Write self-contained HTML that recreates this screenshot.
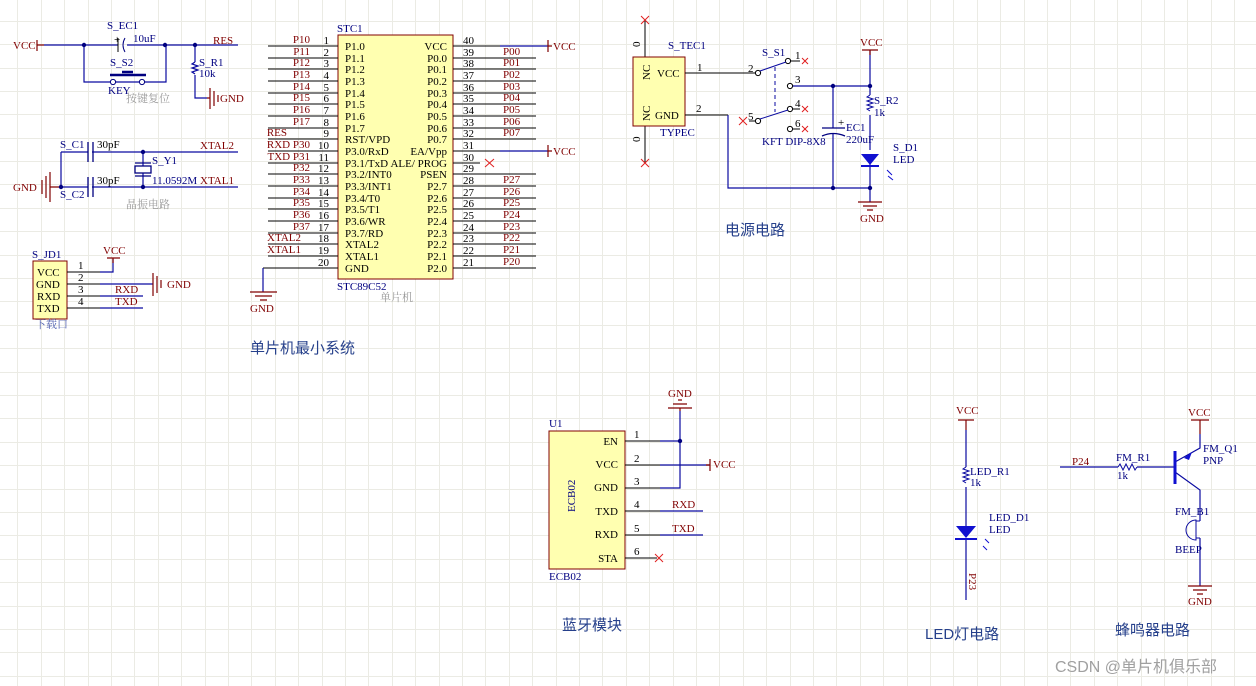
<!DOCTYPE html>
<html><head><meta charset="utf-8"><style>
body{margin:0;background:#fff}
svg{display:block}
text{font-family:"Liberation Serif","Noto Serif CJK SC",serif;font-size:11px}
.n{fill:#800000}.b{fill:#000080}.k{fill:#000}.g{fill:#999}
.t{font-family:"Liberation Sans","Noto Sans CJK SC",sans-serif;font-size:15px;fill:#26408b}
.cs{font-family:"Liberation Sans","Noto Sans CJK SC",sans-serif;font-size:16px;fill:#a0a0a0}
.w{stroke:#0a0aa0;stroke-width:1.2;fill:none}
.p{stroke:#000;stroke-width:1;fill:none}
.r{stroke:#800000;stroke-width:1.2;fill:none}
.x{stroke:#e02020;stroke-width:1}
</style></head><body>
<svg width="1256" height="686" viewBox="0 0 1256 686">
<rect width="1256" height="686" fill="#fff"/>
<path stroke="#ebebe4" stroke-width="1" fill="none" d="M17.5 0V686M41.5 0V686M64.5 0V686M88.5 0V686M111.5 0V686M134.5 0V686M158.5 0V686M181.5 0V686M205.5 0V686M228.5 0V686M251.5 0V686M275.5 0V686M298.5 0V686M322.5 0V686M345.5 0V686M368.5 0V686M392.5 0V686M415.5 0V686M439.5 0V686M462.5 0V686M485.5 0V686M509.5 0V686M532.5 0V686M556.5 0V686M579.5 0V686M602.5 0V686M626.5 0V686M649.5 0V686M673.5 0V686M696.5 0V686M719.5 0V686M743.5 0V686M766.5 0V686M790.5 0V686M813.5 0V686M836.5 0V686M860.5 0V686M883.5 0V686M907.5 0V686M930.5 0V686M953.5 0V686M977.5 0V686M1000.5 0V686M1024.5 0V686M1047.5 0V686M1070.5 0V686M1094.5 0V686M1117.5 0V686M1141.5 0V686M1164.5 0V686M1187.5 0V686M1211.5 0V686M1234.5 0V686
M0 21.5H1256M0 44.5H1256M0 68.5H1256M0 91.5H1256M0 114.5H1256M0 138.5H1256M0 161.5H1256M0 184.5H1256M0 208.5H1256M0 231.5H1256M0 255.5H1256M0 278.5H1256M0 301.5H1256M0 325.5H1256M0 348.5H1256M0 372.5H1256M0 395.5H1256M0 418.5H1256M0 442.5H1256M0 465.5H1256M0 489.5H1256M0 512.5H1256M0 535.5H1256M0 559.5H1256M0 582.5H1256M0 606.5H1256M0 629.5H1256M0 652.5H1256M0 676.5H1256"/>

<!-- reset circuit -->
<text x="13" y="49" class="n">VCC</text>
<path class="r" d="M37 40V51M37 45H44"/>
<path class="w" d="M44 45H118M127 45H238M84 45V82H110M116 82H139M145 82H166V45M195 45V62M195 75V98H207"/>
<path class="p" d="M118 38V52" />
<path d="M125 38Q121 45 125 52" stroke="#000080" fill="none"/>
<text x="114" y="43" class="k" font-size="9">+</text>
<circle cx="113" cy="82" r="2.6" fill="#fff" stroke="#000080"/>
<circle cx="142" cy="82" r="2.6" fill="#fff" stroke="#000080"/>
<path d="M110 75H146M122 72H133" stroke="#000080" stroke-width="2.5"/>
<path d="M195 62l-3 2l6 2l-6 2l6 2l-6 2l3 2" class="w" stroke-width="1"/>
<circle cx="84" cy="45" r="2.2" fill="#000080"/><circle cx="165" cy="45" r="2.2" fill="#000080"/><circle cx="195" cy="45" r="2.2" fill="#000080"/>
<path class="r" d="M207 98H210M210 88V109M214 91V106M218 95V102"/>
<text x="220" y="102" class="n">GND</text>
<text x="107" y="29" class="b">S_EC1</text><text x="133" y="42" class="b">10uF</text>
<text x="110" y="66" class="b">S_S2</text><text x="108" y="94" class="b">KEY</text>
<text x="126" y="102" class="g" font-size="9">按键复位</text>
<text x="213" y="44" class="n">RES</text>
<text x="199" y="66" class="b">S_R1</text><text x="199" y="77" class="b">10k</text>

<!-- crystal -->
<text x="13" y="191" class="n">GND</text>
<path class="r" d="M42 180V194M46 176V198M50 172V202M50 187H61"/>
<path class="w" d="M61 152V187M61 152H88M92 152H238M61 187H88M92 187H238M143 152V166M143 173V187"/>
<path d="M88 142V162M93 142V162M88 177V197M93 177V197" stroke="#000080" stroke-width="1.3"/>
<rect x="135" y="166" width="16" height="7" fill="none" stroke="#000080" stroke-width="1.3"/>
<path d="M135 163H151M135 176H151" stroke="#000080" stroke-width="1.3"/>
<circle cx="61" cy="187" r="2.2" fill="#000080"/><circle cx="143" cy="152" r="2.2" fill="#000080"/><circle cx="143" cy="187" r="2.2" fill="#000080"/>
<text x="60" y="148" class="b">S_C1</text><text x="97" y="148" class="k">30pF</text>
<text x="97" y="184" class="k">30pF</text><text x="60" y="198" class="b">S_C2</text>
<text x="152" y="164" class="b">S_Y1</text><text x="152" y="184" class="b">11.0592M</text>
<text x="200" y="149" class="n">XTAL2</text><text x="200" y="184" class="n">XTAL1</text>
<text x="126" y="208" class="g" font-size="9">晶振电路</text>

<!-- JD1 -->
<text x="32" y="258" class="b">S_JD1</text>
<rect x="33" y="261" width="34" height="58" fill="#ffffb0" stroke="#800000"/>
<text x="37" y="276" class="k">VCC</text><text x="36" y="288" class="k">GND</text><text x="37" y="300" class="k">RXD</text><text x="37" y="312" class="k">TXD</text>
<path class="p" d="M67 272H100M67 284H100M67 296H100M67 308H100"/>
<text x="78" y="269" class="k">1</text><text x="78" y="281" class="k">2</text><text x="78" y="293" class="k">3</text><text x="78" y="305" class="k">4</text>
<path class="w" d="M100 272H113V259M100 284H153M100 296H143M100 308H143"/>
<path class="r" d="M107 258H120M113 258V263M153 273V296M157 276V293M161 280V288"/>
<text x="103" y="254" class="n">VCC</text><text x="167" y="288" class="n">GND</text>
<text x="115" y="293" class="n">RXD</text><text x="115" y="305" class="n">TXD</text>
<text x="35" y="328" fill="#5060b0" font-size="11">下载口</text>

<!-- STC -->
<text x="337" y="32" class="b">STC1</text>
<rect x="338" y="35" width="115" height="244" fill="#ffffb0" stroke="#800000"/>
<g class="p">
<path d="M268 46H338M268 58H338M268 69H338M268 81H338M268 93H338M268 104H338M268 116H338M268 128H338M268 139H338M268 151H338M268 163H338M268 174H338M268 186H338M268 198H338M268 209H338M268 221H338M268 233H338M268 244H338M268 256H338M263 268H338"/>
<path d="M453 46H548M453 58H536M453 69H536M453 81H536M453 93H536M453 104H536M453 116H536M453 128H536M453 139H536M453 151H548M453 163H480M453 174H536M453 186H536M453 198H536M453 209H536M453 221H536M453 233H536M453 244H536M453 256H536M453 268H536"/>
</g>
<path class="w" d="M263 268V292M500 46H548M500 151H548"/>
<path class="r" d="M548 40V52M548 46H552M548 145V157M548 151H552M250 292H277M255 296H272M260 300H267"/>
<path class="x" d="M485 159l9 8M485 167l9 -8"/>
<text x="553" y="50" class="n">VCC</text><text x="553" y="155" class="n">VCC</text><text x="250" y="312" class="n">GND</text>
<g class="k" text-anchor="end">
<text x="329" y="44">1</text><text x="329" y="56">2</text><text x="329" y="67">3</text><text x="329" y="79">4</text><text x="329" y="91">5</text><text x="329" y="102">6</text><text x="329" y="114">7</text><text x="329" y="126">8</text><text x="329" y="137">9</text><text x="329" y="149">10</text><text x="329" y="161">11</text><text x="329" y="172">12</text><text x="329" y="184">13</text><text x="329" y="196">14</text><text x="329" y="207">15</text><text x="329" y="219">16</text><text x="329" y="231">17</text><text x="329" y="242">18</text><text x="329" y="254">19</text><text x="329" y="266">20</text>
</g>
<g class="k">
<text x="463" y="44">40</text><text x="463" y="56">39</text><text x="463" y="67">38</text><text x="463" y="79">37</text><text x="463" y="91">36</text><text x="463" y="102">35</text><text x="463" y="114">34</text><text x="463" y="126">33</text><text x="463" y="137">32</text><text x="463" y="149">31</text><text x="463" y="161">30</text><text x="463" y="172">29</text><text x="463" y="184">28</text><text x="463" y="196">27</text><text x="463" y="207">26</text><text x="463" y="219">25</text><text x="463" y="231">24</text><text x="463" y="242">23</text><text x="463" y="254">22</text><text x="463" y="266">21</text>
</g>
<g class="k">
<text x="345" y="50">P1.0</text><text x="345" y="62">P1.1</text><text x="345" y="73">P1.2</text><text x="345" y="85">P1.3</text><text x="345" y="97">P1.4</text><text x="345" y="108">P1.5</text><text x="345" y="120">P1.6</text><text x="345" y="132">P1.7</text><text x="345" y="143">RST/VPD</text><text x="345" y="155">P3.0/RxD</text><text x="345" y="167">P3.1/TxD</text><text x="345" y="178">P3.2/INT0</text><text x="345" y="190">P3.3/INT1</text><text x="345" y="202">P3.4/T0</text><text x="345" y="213">P3.5/T1</text><text x="345" y="225">P3.6/WR</text><text x="345" y="237">P3.7/RD</text><text x="345" y="248">XTAL2</text><text x="345" y="260">XTAL1</text><text x="345" y="272">GND</text>
</g>
<g class="k" text-anchor="end">
<text x="447" y="50">VCC</text><text x="447" y="62">P0.0</text><text x="447" y="73">P0.1</text><text x="447" y="85">P0.2</text><text x="447" y="97">P0.3</text><text x="447" y="108">P0.4</text><text x="447" y="120">P0.5</text><text x="447" y="132">P0.6</text><text x="447" y="143">P0.7</text><text x="447" y="155">EA/Vpp</text><text x="447" y="167">ALE/ PROG</text><text x="447" y="178">PSEN</text><text x="447" y="190">P2.7</text><text x="447" y="202">P2.6</text><text x="447" y="213">P2.5</text><text x="447" y="225">P2.4</text><text x="447" y="237">P2.3</text><text x="447" y="248">P2.2</text><text x="447" y="260">P2.1</text><text x="447" y="272">P2.0</text>
</g>
<g class="n" text-anchor="end">
<text x="310" y="43">P10</text><text x="310" y="55">P11</text><text x="310" y="66">P12</text><text x="310" y="78">P13</text><text x="310" y="90">P14</text><text x="310" y="101">P15</text><text x="310" y="113">P16</text><text x="310" y="125">P17</text><text x="287" y="136">RES</text><text x="310" y="148">RXD P30</text><text x="310" y="160">TXD P31</text><text x="310" y="171">P32</text><text x="310" y="183">P33</text><text x="310" y="195">P34</text><text x="310" y="206">P35</text><text x="310" y="218">P36</text><text x="310" y="230">P37</text><text x="301" y="241">XTAL2</text><text x="301" y="253">XTAL1</text>
</g>
<g class="n">
<text x="503" y="55">P00</text><text x="503" y="66">P01</text><text x="503" y="78">P02</text><text x="503" y="90">P03</text><text x="503" y="101">P04</text><text x="503" y="113">P05</text><text x="503" y="125">P06</text><text x="503" y="136">P07</text><text x="503" y="183">P27</text><text x="503" y="195">P26</text><text x="503" y="206">P25</text><text x="503" y="218">P24</text><text x="503" y="230">P23</text><text x="503" y="241">P22</text><text x="503" y="253">P21</text><text x="503" y="265">P20</text>
</g>
<text x="337" y="290" class="b">STC89C52</text>
<text x="380" y="301" class="g" font-size="9">单片机</text>
<text x="250" y="353" class="t">单片机最小系统</text>

<!-- power -->
<path class="p" d="M645 20V57M645 126V163"/>
<path class="x" d="M641 16l8 8M641 24l8 -8M641 159l8 8M641 167l8 -8"/>
<text x="640" y="47" class="k" font-size="10" transform="rotate(-90 640 47)">0</text>
<text x="640" y="142" class="k" font-size="10" transform="rotate(-90 640 142)">0</text>
<text x="668" y="49" class="b">S_TEC1</text>
<rect x="633" y="57" width="52" height="69" fill="#ffffb0" stroke="#800000"/>
<text x="650" y="80" class="k" font-size="10" transform="rotate(-90 650 80)">NC</text>
<text x="650" y="121" class="k" font-size="10" transform="rotate(-90 650 121)">NC</text>
<text x="657" y="77" class="k">VCC</text><text x="655" y="119" class="k">GND</text>
<text x="660" y="136" class="b">TYPEC</text>
<path class="p" d="M685 73H720M685 115H728M720 73H755"/>
<text x="697" y="71" class="k">1</text><text x="696" y="112" class="k">2</text>
<path class="w" d="M728 115V188H870M793 86H870M870 50V95M870 115V150M870 163V202M833 86V128M833 134V188"/>
<circle cx="758" cy="73" r="2.6" fill="#fff" stroke="#000"/><circle cx="788" cy="61" r="2.6" fill="#fff" stroke="#000"/>
<circle cx="790" cy="86" r="2.6" fill="#fff" stroke="#000"/><circle cx="790" cy="109" r="2.6" fill="#fff" stroke="#000"/>
<circle cx="758" cy="121" r="2.6" fill="#fff" stroke="#000"/><circle cx="790" cy="129" r="2.6" fill="#fff" stroke="#000"/>
<path class="p" d="M791 61H800M793 109H800M793 129H800M749 121H755"/>
<path d="M760 71L786 62M760 119L788 110" stroke="#0a0aa0" fill="none"/>
<path d="M775 67V112" stroke="#0a0aa0" stroke-dasharray="4 3"/>
<path class="x" d="M802 58l6 6M802 64l6 -6M802 106l6 6M802 112l6 -6M802 126l6 6M802 132l6 -6M739 117l8 8M739 125l8 -8"/>
<g class="k"><text x="748" y="72">2</text><text x="795" y="59">1</text><text x="795" y="83">3</text><text x="795" y="107">4</text><text x="748" y="120">5</text><text x="795" y="127">6</text></g>
<text x="762" y="56" class="b">S_S1</text>
<text x="762" y="145" class="b">KFT DIP-8X8</text>
<path d="M822 128H845" stroke="#000080" stroke-width="1.3"/><path d="M822 136Q833 131 845 136" stroke="#000080" fill="none" stroke-width="1.3"/>
<text x="838" y="126" class="k" font-size="9">+</text>
<text x="846" y="131" class="b">EC1</text><text x="846" y="143" class="b">220uF</text>
<path d="M870 95l-3 2l6 2l-6 2l6 2l-6 2l6 2l-6 2l3 2" stroke="#0a0aa0" fill="none"/>
<text x="874" y="104" class="b">S_R2</text><text x="874" y="116" class="b">1k</text>
<path d="M861 154H879L870 165Z" fill="#1010d0"/><path d="M861 166H879" stroke="#1010d0" stroke-width="2"/>
<path d="M887 170l5 5M888 176l5 4" stroke="#1010d0"/>
<text x="893" y="151" class="b">S_D1</text><text x="893" y="163" class="b">LED</text>
<path class="r" d="M862 50H878M870 50V55M858 202H882M863 206H877M867 210H873"/>
<text x="860" y="46" class="n">VCC</text><text x="860" y="222" class="n">GND</text>
<circle cx="833" cy="86" r="2.2" fill="#000080"/><circle cx="870" cy="86" r="2.2" fill="#000080"/><circle cx="833" cy="188" r="2.2" fill="#000080"/><circle cx="870" cy="188" r="2.2" fill="#000080"/>
<text x="725" y="235" class="t">电源电路</text>

<!-- bluetooth -->
<text x="549" y="427" class="b">U1</text>
<rect x="549" y="431" width="76" height="138" fill="#ffffb0" stroke="#800000"/>
<text x="575" y="512" class="b" transform="rotate(-90 575 512)">ECB02</text>
<g class="k" text-anchor="end"><text x="618" y="445">EN</text><text x="618" y="468">VCC</text><text x="618" y="491">GND</text><text x="618" y="515">TXD</text><text x="618" y="538">RXD</text><text x="618" y="562">STA</text></g>
<path class="p" d="M625 441H660M625 465H660M625 488H660M625 511H660M625 535H660M625 558H657"/>
<g class="k"><text x="634" y="438">1</text><text x="634" y="462">2</text><text x="634" y="485">3</text><text x="634" y="508">4</text><text x="634" y="532">5</text><text x="634" y="555">6</text></g>
<path class="w" d="M660 441H680M660 465H710M660 488H680V411M660 511H703M660 535H703"/>
<circle cx="680" cy="441" r="2.2" fill="#000080"/>
<path class="x" d="M655 554l8 8M655 562l8 -8"/>
<path class="r" d="M680 411V408M668 408H692M673 404H687M678 400H682M710 459V471M706 465H710"/>
<text x="668" y="397" class="n">GND</text><text x="713" y="468" class="n">VCC</text>
<text x="672" y="508" class="n">RXD</text><text x="672" y="532" class="n">TXD</text>
<text x="549" y="580" class="b">ECB02</text>
<text x="562" y="630" class="t">蓝牙模块</text>

<!-- LED -->
<text x="956" y="414" class="n">VCC</text>
<path class="r" d="M958 420H974M966 420V430"/>
<path class="w" d="M966 430V467M966 487V526M966 538V600"/>
<path d="M966 467l-3 2l6 2l-6 2l6 2l-6 2l6 2l-6 2l3 2" stroke="#0a0aa0" fill="none"/>
<path d="M956 526H976L966 538Z" fill="#1010d0"/><path d="M955 539H977" stroke="#1010d0" stroke-width="2"/>
<path d="M985 539l4 4M983 546l4 4" stroke="#1010d0"/>
<text x="970" y="475" class="b">LED_R1</text><text x="970" y="486" class="b">1k</text>
<text x="989" y="521" class="b">LED_D1</text><text x="989" y="533" class="b">LED</text>
<text x="969" y="573" class="n" transform="rotate(90 969 573)">P23</text>
<text x="925" y="639" class="t">LED灯电路</text>

<!-- buzzer -->
<text x="1072" y="465" class="n">P24</text>
<path class="w" d="M1060 467H1118M1137 467H1175M1175 462L1200 448V434M1175 472L1200 490V521M1200 538V586"/>
<path d="M1118 467l2 -3l3 6l3 -6l3 6l3 -6l3 6l2 -3" stroke="#0a0aa0" fill="none"/>
<path d="M1175 451V484" stroke="#1010d0" stroke-width="3"/>
<path d="M1184 458l8 -6l-3 8Z" fill="#1010d0"/>
<path class="r" d="M1200 434V420M1191 420H1209M1188 586H1212M1193 590H1207M1197 594H1203"/>
<path d="M1196 521V538M1196 521H1200M1196 538H1200M1196 520A10 10 0 0 0 1196 540Z" stroke="#0a0aa0" fill="none"/>
<text x="1116" y="461" class="b">FM_R1</text><text x="1117" y="479" class="b">1k</text>
<text x="1203" y="452" class="b">FM_Q1</text><text x="1203" y="464" class="b">PNP</text>
<text x="1175" y="515" class="b">FM_B1</text><text x="1175" y="553" class="b">BEEP</text>
<text x="1188" y="416" class="n">VCC</text><text x="1188" y="605" class="n">GND</text>
<text x="1115" y="635" class="t">蜂鸣器电路</text>

<text x="1055" y="672" class="cs">CSDN @单片机俱乐部</text>
</svg>
</body></html>
